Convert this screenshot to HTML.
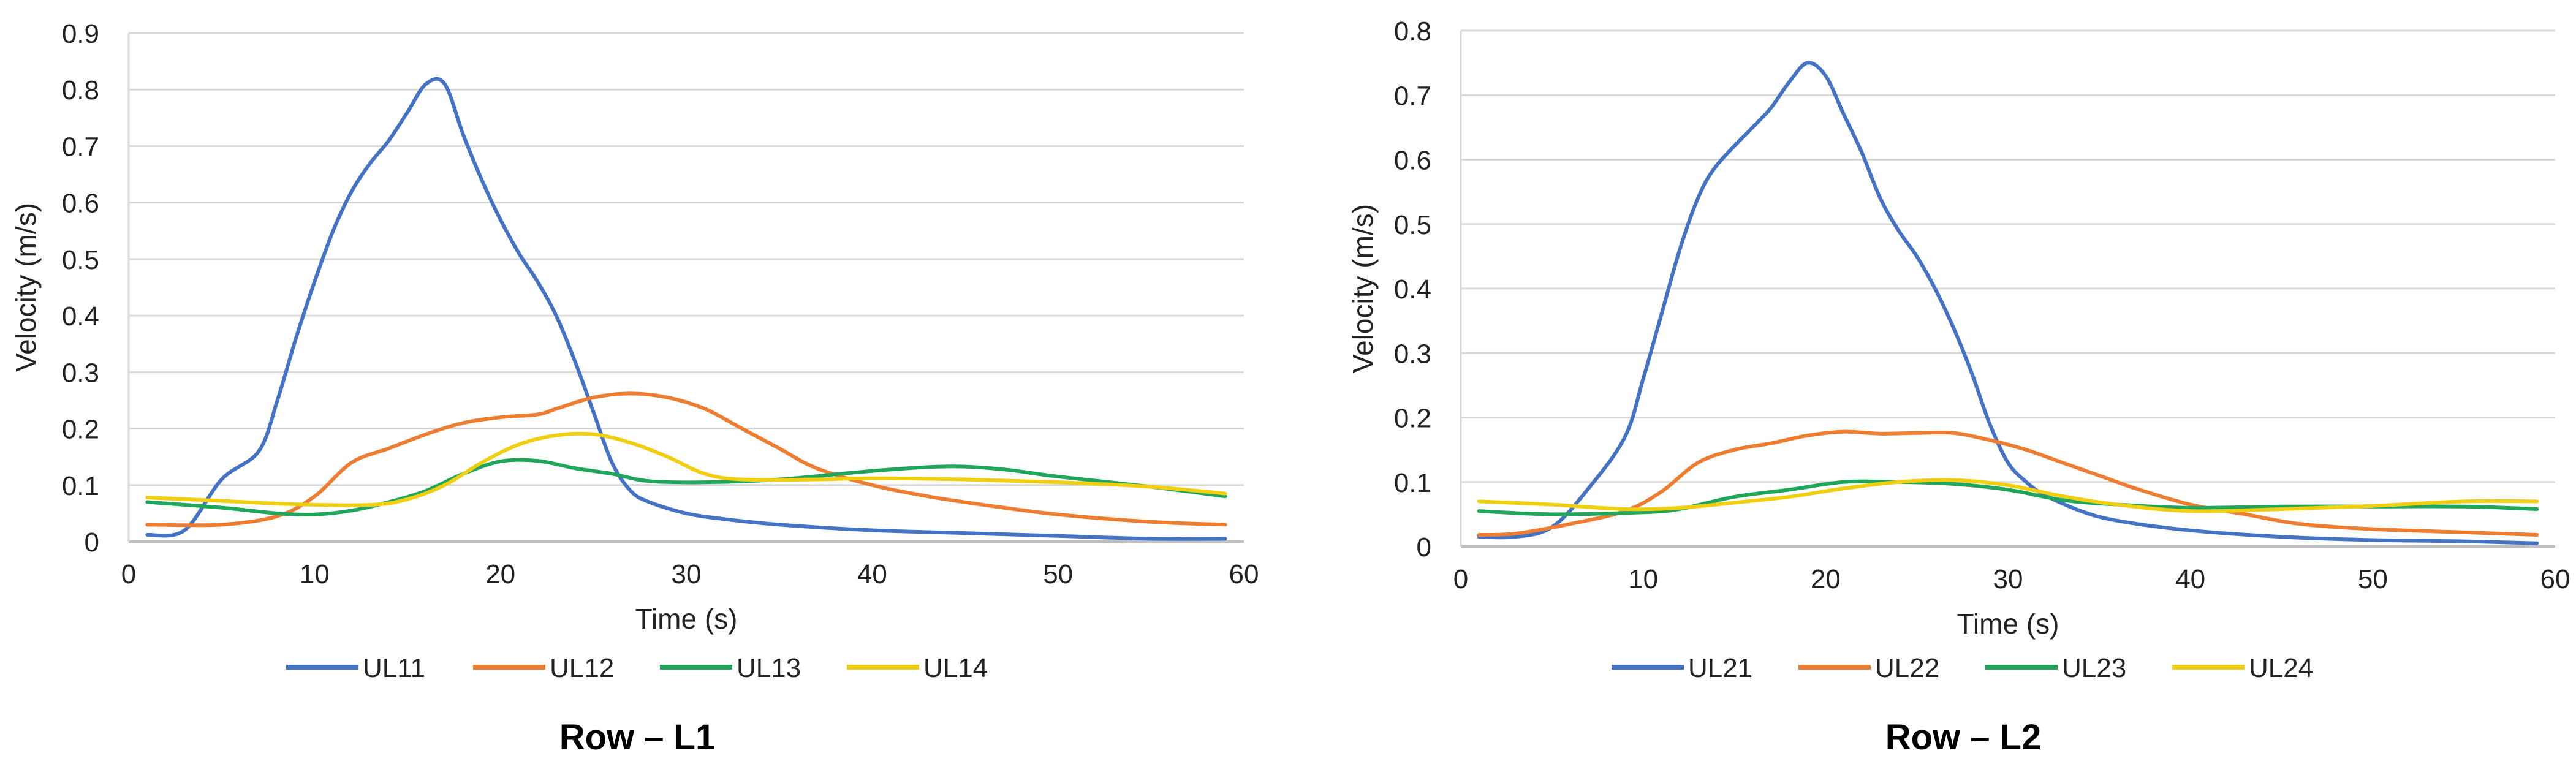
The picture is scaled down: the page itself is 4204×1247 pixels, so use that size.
<!DOCTYPE html>
<html><head><meta charset="utf-8"><style>
html,body{margin:0;padding:0;background:#fff;}
svg{display:block;font-family:"Liberation Sans",Arial,sans-serif;}
</style></head><body>
<svg id="svg" width="4204" height="1247" viewBox="0 0 4204 1247" xmlns="http://www.w3.org/2000/svg"></svg>
<script>
// ---- Chart L1 data ----
const ul11X=[1,3,5,7,8,9,10,11,12,13,14,15,16,17,18,19,20,21,22,23,24,25,26,27,28,30,32,35,40,45,50,55,59];
const ul11Y=[0.012,0.02,0.11,0.16,0.25,0.36,0.46,0.55,0.62,0.67,0.71,0.76,0.81,0.81,0.72,0.64,0.57,0.51,0.46,0.40,0.32,0.23,0.14,0.09,0.07,0.05,0.04,0.03,0.02,0.015,0.01,0.005,0.005];
const ul12X=[1,5,8,10,12,14,16,18,20,22,23,25,27,29,31,33,35,37,40,43,46,50,55,59];
const ul12Y=[0.03,0.03,0.045,0.08,0.14,0.165,0.19,0.21,0.22,0.225,0.235,0.255,0.262,0.255,0.235,0.2,0.165,0.13,0.1,0.08,0.065,0.048,0.035,0.03];
const ul13X=[1,5,8,10,12,14,16,18,20,22,24,26,28,31,35,40,44,47,50,55,59];
const ul13Y=[0.07,0.06,0.05,0.048,0.055,0.07,0.09,0.12,0.142,0.143,0.13,0.12,0.107,0.105,0.11,0.125,0.133,0.128,0.115,0.097,0.08];
const ul14X=[1,5,9,13,15,17,19,21,23,25,27,29,31,33,37,40,45,50,55,59];
const ul14Y=[0.078,0.072,0.066,0.065,0.075,0.1,0.14,0.172,0.188,0.19,0.175,0.15,0.12,0.11,0.11,0.112,0.11,0.105,0.097,0.085];
// ---- Chart L2 data ----
const ul21X=[1,3,5,7,9,10,11,12,13,14,16,17,18,19,20,21,22,23,24,25,26,27,28,29,30,31,32,34,36,40,45,50,55,59];
const ul21Y=[0.015,0.015,0.03,0.09,0.17,0.26,0.36,0.46,0.54,0.59,0.65,0.68,0.72,0.75,0.73,0.67,0.61,0.54,0.49,0.45,0.4,0.34,0.27,0.19,0.13,0.1,0.08,0.055,0.04,0.025,0.015,0.01,0.008,0.005];
const ul22X=[1,3,6,9,11,13,15,17,19,21,23,25,27,29,31,33,35,37,40,43,46,50,55,59];
const ul22Y=[0.018,0.02,0.035,0.055,0.085,0.13,0.15,0.16,0.172,0.178,0.175,0.176,0.176,0.165,0.15,0.13,0.11,0.09,0.065,0.05,0.035,0.027,0.022,0.018];
const ul23X=[1,5,10,12,15,18,21,24,27,30,33,36,40,45,50,55,59];
const ul23Y=[0.055,0.05,0.053,0.058,0.077,0.088,0.1,0.1,0.097,0.088,0.072,0.065,0.06,0.062,0.062,0.062,0.058];
const ul24X=[1,5,9,12,15,18,21,24,27,30,33,36,40,45,50,55,59];
const ul24Y=[0.07,0.065,0.058,0.06,0.068,0.077,0.09,0.1,0.103,0.095,0.078,0.065,0.055,0.058,0.063,0.07,0.07];
const xTicks=[0,10,20,30,40,50,60];
const yTicksL1=[0,0.1,0.2,0.3,0.4,0.5,0.6,0.7,0.8,0.9];
const yTicksL2=[0,0.1,0.2,0.3,0.4,0.5,0.6,0.7,0.8];
const colors=["#4472C4","#ED7D31","#1FA65A","#F0CF12"];

const NS="http://www.w3.org/2000/svg";
const svg=document.getElementById('svg');
function mk(tag,attrs,parent,text){const e=document.createElementNS(NS,tag);for(const k in attrs)e.setAttribute(k,attrs[k]);if(text!==undefined)e.textContent=text;(parent||svg).appendChild(e);return e;}
function smooth(pts){let d="M"+pts[0][0]+","+pts[0][1];for(let i=0;i<pts.length-1;i++){const p0=pts[i-1]||pts[i],p1=pts[i],p2=pts[i+1],p3=pts[i+2]||p2;const c1x=p1[0]+(p2[0]-p0[0])/6,c1y=p1[1]+(p2[1]-p0[1])/6,c2x=p2[0]-(p3[0]-p1[0])/6,c2y=p2[1]-(p3[1]-p1[1])/6;d+=" C"+c1x+","+c1y+" "+c2x+","+c2y+" "+p2[0]+","+p2[1];}return d;}

function chart(cfg){
  const g=mk('g',{});
  
  
  const xs=v=>cfg.x0+(cfg.x1-cfg.x0)*v/60;
  const ys=v=>cfg.y0-(cfg.y0-cfg.yTop)*v/cfg.yMax;
  cfg.yTicks.forEach(t=>{
    if(t>0){const l=mk('line',{x1:cfg.x0,x2:cfg.x1,y1:ys(t),y2:ys(t),stroke:"#d9d9d9","stroke-width":3},g);
    
    }
    const tx=mk('text',{x:cfg.x0-48,y:ys(t)+16,"text-anchor":"end","font-size":44,fill:"#222"},g,String(t));
    
    
  });
  const ax=mk('line',{x1:cfg.x0,x2:cfg.x1,y1:cfg.y0,y2:cfg.y0,stroke:"#bfbfbf","stroke-width":4},g);
  
  
  const ay=mk('line',{x1:cfg.x0,x2:cfg.x0,y1:cfg.yTop,y2:cfg.y0,stroke:"#d9d9d9","stroke-width":3},g);
  
  
  xTicks.forEach(t=>{
    const tx=mk('text',{x:xs(t),y:cfg.y0+68,"text-anchor":"middle","font-size":44,fill:"#222"},g,String(t));
    
    
  });
  const xt=mk('text',{x:(cfg.x0+cfg.x1)/2,y:cfg.y0+142,"text-anchor":"middle","font-size":46,fill:"#222"},g,"Time (s)");
  
  
  const yt=mk('text',{x:0,y:0,"text-anchor":"middle","font-size":46,fill:"#222",transform:"translate("+cfg.yTitleX+","+((cfg.yTop+cfg.y0)/2)+") rotate(-90)"},g,"Velocity (m/s)");
  
  
  cfg.series.forEach((s,i)=>{
    const pts=s.x.map((xv,j)=>[xs(xv),ys(s.y[j])]);
    const p=mk('path',{d:smooth(pts),fill:"none",stroke:colors[i],"stroke-width":6,"stroke-linejoin":"round","stroke-linecap":"round"},g);
    
    
    const lx=cfg.legX+i*305;
    const lg=mk('g',{},g);
    
    
    mk('line',{x1:lx,x2:lx+118,y1:1089,y2:1089,stroke:colors[i],"stroke-width":8},lg);
    mk('text',{x:lx+125,y:1105,"font-size":44,fill:"#222"},lg,s.label);
  });
  const tt=mk('text',{x:cfg.titleX,y:1223,"text-anchor":"middle","font-size":58,"font-weight":"bold",fill:"#000"},g,cfg.title);
  
  
}
chart({name:'chart-row-l1',x0:210,x1:2030,y0:884,yTop:54,yMax:0.9,yTicks:yTicksL1,yTitleX:58,legX:467,titleX:1040,title:"Row – L1",
  series:[{x:ul11X,y:ul11Y,label:"UL11"},{x:ul12X,y:ul12Y,label:"UL12"},{x:ul13X,y:ul13Y,label:"UL13"},{x:ul14X,y:ul14Y,label:"UL14"}]});
chart({name:'chart-row-l2',x0:2384,x1:4170,y0:892,yTop:50,yMax:0.8,yTicks:yTicksL2,yTitleX:2240,legX:2630,titleX:3204,title:"Row – L2",
  series:[{x:ul21X,y:ul21Y,label:"UL21"},{x:ul22X,y:ul22Y,label:"UL22"},{x:ul23X,y:ul23Y,label:"UL23"},{x:ul24X,y:ul24Y,label:"UL24"}]});
</script>
</body></html>
